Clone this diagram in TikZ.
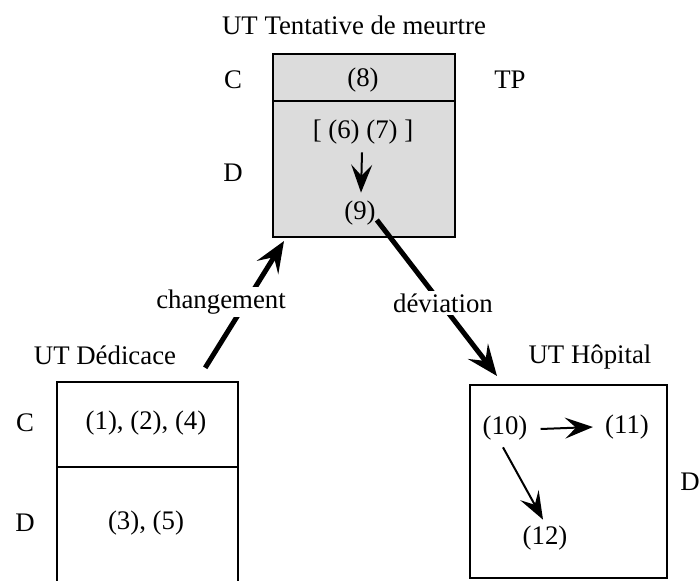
\documentclass[tikz,border=0pt]{standalone}
\usepackage{fontspec}
\setmainfont{Liberation Serif}
\usetikzlibrary{arrows.meta}
\definecolor{boxgray}{RGB}{220,220,220}
\begin{document}
\begin{tikzpicture}[x=1pt,y=-1pt,
  every node/.style={font=\fontsize{26.8}{30}\selectfont, inner sep=0pt},
  frame/.style={draw=black, line width=2pt},
  bigarrow/.style={line width=5pt, -{Stealth[length=31pt,width=25pt,inset=12pt]}},
  smallarrow/.style={line width=2pt, -{Stealth[length=28pt,width=21pt,inset=11pt]}},
  lbl/.style={fill=white, inner sep=3pt}]
\useasboundingbox (0,0) rectangle (700,580);

% --- UT Tentative de meurtre (grey unit) ---
\node[frame, fill=boxgray, minimum width=182pt, minimum height=183pt] (tm) at (364,145.5) {};
\draw[frame] ([yshift=-48pt]tm.north west) -- ([yshift=-48pt]tm.north east);
\node (tmtitle) at (354,25) {UT Tentative de meurtre};
\node (tmC) at (233,80) {C};
\node (tmTP) at (510,80) {TP};
\node (tmD) at (233,173) {D};
\node (n8) at (363,80) {(8)};
\node (n67) at (363,132) {[ (6) (7) ]};
\node (n9) at (360,213) {(9)};
\draw[smallarrow] ([xshift=-1pt,yshift=-8pt]n67.south) -- ([xshift=1pt,yshift=8pt]n9.north);

% --- UT Dedicace (open at the bottom) ---
\node[minimum width=181pt, minimum height=200pt] (ded) at (147.5,482) {};
\draw[frame] (ded.south west) -- (ded.north west) -- (ded.north east) -- (ded.south east);
\draw[frame] ([yshift=-85pt]ded.north west) -- ([yshift=-85pt]ded.north east);
\node (dedtitle) at (105,355) {UT Dédicace};
\node (dedC) at (25,423) {C};
\node (dedD) at (25,523) {D};
\node (n124) at (146,423) {(1), (2), (4)};
\node (n35) at (146,523) {(3), (5)};

% --- UT Hopital ---
\node[frame, minimum width=197pt, minimum height=193pt] (hop) at (568.5,481.5) {};
\node (hoptitle) at (590,357) {UT Hôpital};
\node (hopD) at (690,482) {D};
\node (n10) at (505,428) {(10)};
\node (n11) at (627,427) {(11)};
\node (n12) at (545,538) {(12)};
\draw[smallarrow] ([xshift=13pt,yshift=-1pt]n10.east) -- ([xshift=-12pt]n11.west);
\draw[smallarrow] ([xshift=-2pt,yshift=-7pt]n10.south) -- ([xshift=-2pt,yshift=6pt]n12.north);

% --- transitions between units ---
\draw[bigarrow] ([shift={(-33,-14)}]ded.north east) -- ([shift={(12,3)}]tm.south west);
\node[lbl] (chg) at (221,302) {changement};
\draw[bigarrow] ([shift={(1,7)}]n9.east) -- ([shift={(28,-8)}]hop.north west);
\node[lbl] (dev) at (443,303) {déviation};
\end{tikzpicture}
\end{document}
